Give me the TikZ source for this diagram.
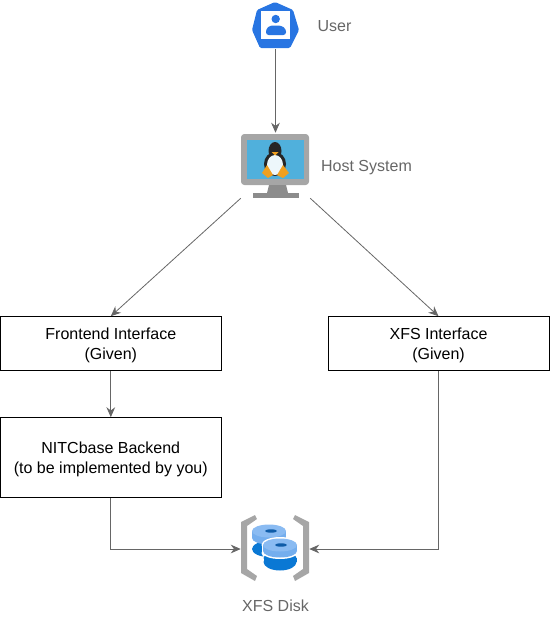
\documentclass[tikz,border=0pt]{standalone}
\usepackage{fontspec}
\setmainfont{Liberation Sans}
\usetikzlibrary{arrows.meta}
\definecolor{linegray}{HTML}{666666}
\definecolor{userblue}{HTML}{2875E2}
\definecolor{screenblue}{HTML}{50B0DC}
\definecolor{framegray}{HTML}{A6A6A6}
\definecolor{standgray}{HTML}{8C8C8C}
\definecolor{tuxorange}{HTML}{F0A020}
\definecolor{disklight}{HTML}{74AEEE}
\definecolor{disktop}{HTML}{8ABBF2}
\definecolor{diskdark}{HTML}{0A78D4}
\definecolor{diskshade}{HTML}{0F5CA8}
\newcommand{\boxstrut}{\rule{0pt}{10.8pt}}
\tikzset{
box/.style={ % Sets the properties for each box
draw=black,
align=center,
inner sep=0pt,
font=\fontsize{12pt}{15pt}\selectfont},
label/.style={
text=linegray,
font=\fontsize{12pt}{14pt}\selectfont},
icon/.style={
inner sep=0pt,
minimum width=#1*0.75pt},
flow/.style={
draw=linegray,
line width=0.6pt,
-{Stealth[length=7.5pt,width=6.5pt]}}}

\begin{document}
\begin{tikzpicture}[x=0.75pt,y=-0.75pt]
	\useasboundingbox (0,0) rectangle (550,621);
	% boxes and labels
	\node[box, minimum width=165.5pt, minimum height=40.5pt] (frontend) at (110.8,343.5) {\boxstrut Frontend Interface\\(Given)};
	\node[box, minimum width=165.5pt, minimum height=40.5pt] (xfs) at (438.5,343.5) {\boxstrut XFS Interface\\(Given)};
	\node[box, minimum width=165.5pt, minimum height=60pt] (backend) at (110.8,457.5) {\boxstrut NITCbase Backend\\(to be implemented by you)};
	\node[icon=48, minimum height=36pt] (user) at (275.5,25) {};
	\node[icon=69, minimum height=48.75pt] (host) at (275.5,165.5) {};
	\node[icon=68, minimum height=49.5pt] (disk) at (275,549) {};
	\node[label] (userlabel) at (334.5,26) {User};
	\node[label] (hostlabel) at (366.5,168) {Host System};
	\node[label] (disklabel) at (275.5,605.5) {XFS Disk};
	% user icon
	\fill[userblue, rounded corners=1pt] (275,2) -- (293,10) -- (299,30) -- (290,48) -- (260,48) -- (252,30) -- (257,10) -- cycle;
	\fill[white] (261,11) rectangle (290,39);
	\fill[userblue] (275.7,19) circle (4.2);
	\fill[userblue, rounded corners=2pt] (266,35) -- (266,29) -- (270,25.5) -- (281,25.5) -- (286,29) -- (286,35) -- cycle;
	% host icon
	\fill[framegray, rounded corners=2.5pt] (241,134) rectangle (309,185);
	\fill[screenblue] (247,140) rectangle (304,179);
	\fill[standgray] (269,185) -- (286,185) -- (288,193) -- (267,193) -- cycle;
	\fill[standgray] (253,193) rectangle (299,198);
	\fill[black!85] (275,151) ellipse (6.5 and 9);
	\fill[black!85] (275,164) ellipse (11 and 12);
	\fill[white!90!screenblue] (275,165) ellipse (8 and 10);
	\fill[tuxorange] (262,173) -- (267,165) -- (273,175) -- (268,178) -- cycle;
	\fill[tuxorange] (289,173) -- (283,165) -- (277,175) -- (283,178) -- cycle;
	\fill[tuxorange] (271.5,152) -- (278.5,152) -- (275,155.5) -- cycle;
	% disk icon
	\fill[framegray] (255,515) -- (257,519) -- (247,526) -- (247,569) -- (257,576) -- (255,581) -- (241,573) -- (241,522) -- cycle;
	\fill[framegray] (295,515) -- (293,519) -- (303,526) -- (303,569) -- (293,576) -- (295,581) -- (309,573) -- (309,522) -- cycle;
	\fill[diskdark] (269,549) ellipse (17 and 8);
	\fill[disklight] (269,538) ellipse (17 and 6.5);
	\fill[disklight] (252,531) rectangle (286,538);
	\fill[disktop] (269,531) ellipse (17 and 6.5);
	\fill[diskshade] (271,531) ellipse (6 and 1.7);
	\fill[white] (280,553) ellipse (18.5 and 8);
	\fill[white] (261.5,545) rectangle (298.5,553);
	\fill[white] (280,545) ellipse (18.5 and 8);
	\fill[diskdark] (280,562) ellipse (16.5 and 8.5);
	\fill[diskdark] (263.5,558) rectangle (296.5,562);
	\fill[diskdark] (280,558) ellipse (16.5 and 6);
	\fill[diskshade] (281,556) ellipse (6 and 1.7);
	\fill[white] (280,552.5) ellipse (17.5 and 6.5);
	\fill[disklight] (280,551) ellipse (17 and 6.5);
	\fill[disklight] (263,545) rectangle (297,551);
	\fill[disktop] (280,545) ellipse (17 and 6.5);
	\fill[diskshade] (281,545) ellipse (6 and 1.7);
	% connectors
	\draw[flow] (user.south) -- (host.north);
	\draw[flow] (host.south west) -- (frontend.north);
	\draw[flow] (host.south east) -- (xfs.north);
	\draw[flow] (frontend.south) -- (backend.north);
	\draw[flow] (backend.south) |- (disk.west);
	\draw[flow] (xfs.south) |- (disk.east);
\end{tikzpicture}
\end{document}
